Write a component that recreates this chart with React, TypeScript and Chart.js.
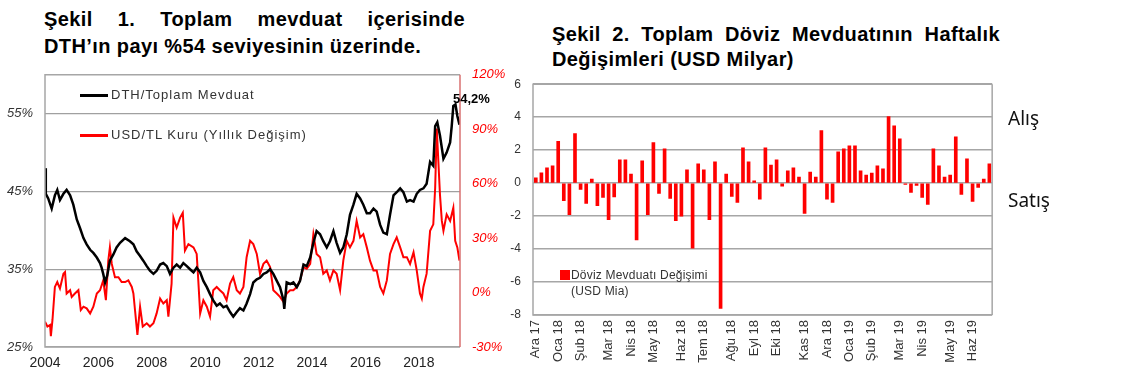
import React, { useEffect, useRef } from "react";
import { Chart, registerables } from "chart.js";

Chart.register(...registerables);

const FONT = "'Liberation Sans', Arial, Helvetica, sans-serif";

// ---------- Şekil 1 data ----------
const dthDates = [2004.0, 2004.03, 2004.12, 2004.25, 2004.37, 2004.46, 2004.56, 2004.69, 2004.81, 2004.94, 2005.06, 2005.19, 2005.31, 2005.44, 2005.56, 2005.69, 2005.81, 2005.94, 2006.06, 2006.12, 2006.18, 2006.25, 2006.33, 2006.43, 2006.56, 2006.68, 2006.81, 2007.0, 2007.18, 2007.31, 2007.43, 2007.56, 2007.68, 2007.81, 2007.93, 2008.06, 2008.18, 2008.31, 2008.43, 2008.56, 2008.68, 2008.81, 2008.93, 2009.06, 2009.18, 2009.31, 2009.43, 2009.56, 2009.68, 2009.81, 2009.93, 2010.06, 2010.18, 2010.3, 2010.43, 2010.55, 2010.68, 2010.8, 2010.93, 2011.05, 2011.18, 2011.3, 2011.43, 2011.55, 2011.68, 2011.8, 2011.93, 2012.05, 2012.18, 2012.3, 2012.43, 2012.55, 2012.68, 2012.8, 2012.93, 2012.96, 2013.05, 2013.18, 2013.3, 2013.43, 2013.55, 2013.68, 2013.8, 2013.93, 2014.05, 2014.17, 2014.3, 2014.42, 2014.55, 2014.67, 2014.8, 2014.92, 2015.05, 2015.17, 2015.3, 2015.42, 2015.55, 2015.67, 2015.8, 2015.92, 2016.05, 2016.17, 2016.3, 2016.42, 2016.55, 2016.67, 2016.8, 2016.92, 2017.05, 2017.17, 2017.3, 2017.42, 2017.55, 2017.67, 2017.8, 2017.92, 2018.04, 2018.17, 2018.29, 2018.42, 2018.54, 2018.61, 2018.69, 2018.79, 2018.92, 2019.04, 2019.17, 2019.23, 2019.29, 2019.37, 2019.44, 2019.52];
const dthShare = [48.0, 44.7, 44.1, 42.8, 44.5, 45.2, 43.9, 44.7, 45.2, 44.5, 43.3, 41.4, 40.3, 39.0, 38.2, 37.5, 37.1, 36.5, 35.8, 35.2, 34.4, 33.3, 34.2, 36.1, 36.9, 37.8, 38.4, 39.0, 38.6, 38.2, 37.3, 36.7, 36.1, 35.4, 34.8, 34.4, 34.8, 35.6, 35.8, 35.4, 34.4, 35.2, 35.6, 35.2, 35.8, 35.4, 35.0, 34.6, 35.2, 34.6, 33.5, 32.7, 31.8, 31.0, 30.3, 30.6, 30.1, 30.3, 29.5, 28.9, 29.5, 30.0, 29.7, 30.6, 31.8, 33.3, 33.7, 33.9, 34.4, 34.6, 35.0, 34.4, 33.5, 32.7, 31.0, 29.9, 33.3, 33.1, 33.3, 32.7, 33.5, 35.6, 35.4, 36.5, 38.4, 39.9, 39.5, 38.6, 37.8, 38.6, 39.9, 38.4, 37.1, 37.8, 39.5, 42.0, 43.3, 44.7, 44.1, 43.3, 42.2, 42.2, 42.8, 42.4, 40.7, 39.7, 39.5, 42.0, 44.5, 44.9, 45.4, 44.9, 43.7, 43.9, 43.7, 44.7, 45.2, 45.4, 46.0, 48.8, 48.3, 53.4, 53.9, 52.2, 49.2, 50.0, 51.3, 53.4, 56.0, 56.2, 54.7, 53.6];

const fxDates = [2004.0, 2004.09, 2004.19, 2004.22, 2004.28, 2004.37, 2004.46, 2004.56, 2004.69, 2004.75, 2004.81, 2004.94, 2005.0, 2005.12, 2005.25, 2005.34, 2005.44, 2005.56, 2005.69, 2005.81, 2005.94, 2006.06, 2006.18, 2006.28, 2006.37, 2006.43, 2006.5, 2006.62, 2006.75, 2006.87, 2007.0, 2007.12, 2007.25, 2007.31, 2007.37, 2007.46, 2007.56, 2007.66, 2007.81, 2007.93, 2008.06, 2008.18, 2008.31, 2008.43, 2008.56, 2008.62, 2008.74, 2008.81, 2008.93, 2009.06, 2009.16, 2009.24, 2009.37, 2009.56, 2009.68, 2009.74, 2009.81, 2009.93, 2010.06, 2010.18, 2010.3, 2010.43, 2010.55, 2010.68, 2010.8, 2010.93, 2011.05, 2011.18, 2011.3, 2011.43, 2011.55, 2011.68, 2011.8, 2011.93, 2012.05, 2012.18, 2012.3, 2012.43, 2012.55, 2012.68, 2012.8, 2012.93, 2013.05, 2013.18, 2013.3, 2013.43, 2013.55, 2013.68, 2013.8, 2013.93, 2014.05, 2014.17, 2014.3, 2014.42, 2014.55, 2014.67, 2014.8, 2014.92, 2015.05, 2015.17, 2015.3, 2015.42, 2015.55, 2015.67, 2015.8, 2015.92, 2016.05, 2016.17, 2016.3, 2016.42, 2016.55, 2016.67, 2016.8, 2016.92, 2017.05, 2017.17, 2017.3, 2017.42, 2017.55, 2017.67, 2017.8, 2017.92, 2018.04, 2018.11, 2018.17, 2018.29, 2018.42, 2018.54, 2018.61, 2018.67, 2018.73, 2018.79, 2018.86, 2018.92, 2019.04, 2019.17, 2019.29, 2019.36, 2019.44, 2019.52];
const fxChange = [-16, -18.7, -17.8, -24, -15.1, 3.1, 5.8, 2.2, 10.4, 11.3, -0.5, 1.3, -2.4, -0.5, 1.3, -9.6, -7.8, -8.7, -11.5, -7.8, -0.5, 1.3, 6.7, -4.2, 17.6, 24.9, 15.8, 8.5, 8.5, 5.8, 5.8, 6.7, 3.1, -0.5, -9.6, -23.3, -7.8, -18.7, -16.9, -18.7, -16.9, -11.5, -3.3, -6.0, -4.2, -13.3, 4.9, 41.3, 35.8, 41.3, 44.0, 23.1, 26.7, 24.9, 21.3, 6.7, -11.5, -4.2, -7.8, -13.3, 1.3, 3.1, 1.3, -0.5, -4.2, 4.9, 8.5, 1.3, -0.5, 3.1, 19.5, 28.5, 26.7, 21.3, 10.4, 15.8, 17.6, 14.0, 1.3, -0.5, -2.4, -5.1, -0.5, 1.3, 1.3, 3.1, 6.7, 14.0, 13.1, 15.8, 32.2, 21.3, 19.5, 10.4, 12.2, 6.7, 12.2, 10.4, 1.3, 17.6, 28.5, 24.9, 28.5, 39.5, 30.4, 32.2, 24.9, 17.6, 12.2, 12.2, 3.1, -0.5, 6.7, 21.3, 26.7, 30.4, 24.9, 19.5, 19.5, 15.8, 22.2, 12.2, -0.5, -3.3, 3.1, 10.4, 34.0, 37.6, 57.6, 90.4, 72.2, 54.0, 39.5, 34.0, 43.1, 39.5, 46.7, 28.5, 24.9, 17.6];

const yearTicks = [2004, 2006, 2008, 2010, 2012, 2014, 2016, 2018];
const shareTicks = [25, 35, 45, 55];
const fxTicks = [-30, 0, 30, 60, 90, 120];

// ---------- Şekil 2 data ----------
const weeklyChange = [0.32, 0.63, 0.93, 1.05, 2.53, -1.07, -1.92, 3.01, -0.38, -1.23, 0.24, -1.37, -0.87, -2.22, -0.83, 1.41, 1.41, 0.55, -3.45, 1.35, -1.92, 2.46, -0.63, 2.08, -0.93, -2.28, -2.0, 0.81, -3.94, 1.17, 0.81, -2.22, 1.29, -7.6, 0.55, -0.81, -1.17, 2.14, 1.29, 0.14, -0.97, 2.14, 1.09, 1.41, -0.18, 0.75, 0.93, 0.36, -1.84, 0.67, 0.36, 3.19, -0.97, -1.17, 1.9, 2.08, 2.26, 2.26, 0.75, 0.48, 0.61, 1.05, 0.87, 4.04, 3.47, 2.69, -0.08, -0.57, -0.14, -0.87, -1.29, 2.08, 1.05, 0.36, 0.48, 2.81, -0.69, 1.47, -1.11, -0.26, 0.24, 1.17];
const monthLabels = ["Ara 17", "Oca 18", "Şub 18", "Mar 18", "Nis 18", "May 18", "Haz 18", "Tem 18", "Ağu 18", "Eyl 18", "Eki 18", "Kas 18", "Ara 18", "Oca 19", "Şub 19", "Mar 19", "Nis 19", "May 19", "Haz 19"];
const monthStartWeek = [0, 4, 8, 13, 17, 21, 26, 30, 35, 39, 43, 48, 52, 56, 60, 65, 69, 74, 78];
const changeTicks = [-8, -6, -4, -2, 0, 2, 4, 6];

const framePlugin = (color: string, rightColor: string) => ({
  id: "frame",
  afterDraw(chart: any) {
    const { ctx, chartArea } = chart;
    const { left, right, top, bottom } = chartArea;
    ctx.save();
    ctx.lineWidth = 1.5;
    ctx.strokeStyle = color;
    ctx.beginPath();
    ctx.moveTo(right, top);
    ctx.lineTo(left, top);
    ctx.lineTo(left, bottom);
    ctx.lineTo(right, bottom);
    ctx.stroke();
    ctx.strokeStyle = rightColor;
    ctx.beginPath();
    ctx.moveTo(right, top);
    ctx.lineTo(right, bottom);
    ctx.stroke();
    ctx.restore();
  },
});

function LeftChart() {
  const ref = useRef<HTMLCanvasElement>(null);
  useEffect(() => {
    const chart = new Chart(ref.current as HTMLCanvasElement, {
      type: "line",
      data: {
        datasets: [
          {
            label: "DTH/Toplam Mevduat",
            data: dthDates.map((d, i) => ({ x: d, y: dthShare[i] })),
            borderColor: "#000000",
            borderWidth: 2.5,
            pointRadius: 0,
            tension: 0,
            yAxisID: "y",
          },
          {
            label: "USD/TL Kuru (Yıllık Değişim)",
            data: fxDates.map((d, i) => ({ x: d, y: fxChange[i] })),
            borderColor: "#ff0000",
            borderWidth: 2,
            pointRadius: 0,
            tension: 0,
            yAxisID: "y1",
          },
        ],
      },
      options: {
        animation: false,
        responsive: true,
        maintainAspectRatio: false,
        layout: { padding: { top: 7, left: 0, right: 0, bottom: 0 } },
        plugins: { legend: { display: false }, tooltip: { enabled: false } },
        scales: {
          x: {
            type: "linear",
            min: 2004,
            max: 2019.54,
            afterBuildTicks: (s: any) => {
              s.ticks = yearTicks.map((v) => ({ value: v }));
            },
            afterFit: (s: any) => {
              s.height = 36;
            },
            grid: { display: false, drawTicks: false },
            border: { display: false },
            ticks: {
              callback: (v: any) => String(v),
              font: { family: FONT, size: 14 },
              color: "#222222",
              padding: 8,
              maxRotation: 0,
            },
          },
          y: {
            position: "left",
            min: 25,
            max: 60,
            afterBuildTicks: (s: any) => {
              s.ticks = shareTicks.map((v) => ({ value: v }));
            },
            afterFit: (s: any) => {
              s.width = 45;
            },
            grid: { color: "#a0a0a0", lineWidth: 1.2, drawTicks: false },
            border: { display: false },
            ticks: {
              callback: (v: any) => v + "%",
              font: { family: FONT, size: 13, style: "italic" },
              color: "#333333",
              padding: 12,
            },
          },
          y1: {
            position: "right",
            min: -30,
            max: 120,
            afterBuildTicks: (s: any) => {
              s.ticks = fxTicks.map((v) => ({ value: v }));
            },
            afterFit: (s: any) => {
              s.width = 60;
            },
            grid: { display: false, drawTicks: false },
            border: { display: false },
            ticks: {
              callback: (v: any) => v + "%",
              font: { family: FONT, size: 13, style: "italic" },
              color: "#ff0000",
              padding: 12,
            },
          },
        },
      },
      plugins: [framePlugin("#a6a6a6", "#d87070")],
    } as any);
    return () => chart.destroy();
  }, []);
  return (
    <div style={{ position: "absolute", left: 0, top: 55, width: 520, height: 328 }}>
      <canvas ref={ref} />
    </div>
  );
}

function RightChart() {
  const ref = useRef<HTMLCanvasElement>(null);
  useEffect(() => {
    const labels = weeklyChange.map((_, i) => {
      const k = monthStartWeek.indexOf(i);
      return k >= 0 ? monthLabels[k] : "";
    });
    const chart = new Chart(ref.current as HTMLCanvasElement, {
      type: "bar",
      data: {
        labels,
        datasets: [
          {
            label: "Döviz Mevduatı Değişimi (USD Mia)",
            data: weeklyChange,
            backgroundColor: "#ff0000",
            barThickness: 3,
          },
        ],
      },
      options: {
        animation: false,
        responsive: true,
        maintainAspectRatio: false,
        layout: { padding: { top: 9, left: 0, right: 5, bottom: 0 } },
        plugins: { legend: { display: false }, tooltip: { enabled: false } },
        scales: {
          x: {
            afterFit: (s: any) => {
              s.height = 68;
            },
            grid: { display: false, drawTicks: false },
            border: { display: false },
            ticks: {
              autoSkip: false,
              minRotation: 90,
              maxRotation: 90,
              font: { family: FONT, size: 13 },
              color: "#333333",
              padding: 5,
            },
          },
          y: {
            min: -8,
            max: 6,
            afterBuildTicks: (s: any) => {
              s.ticks = changeTicks.map((v) => ({ value: v }));
            },
            afterFit: (s: any) => {
              s.width = 43;
            },
            grid: { color: "#a6a6a6", lineWidth: 1.5, drawTicks: false },
            border: { display: false },
            ticks: {
              font: { family: FONT, size: 12 },
              color: "#333333",
              padding: 12,
            },
          },
        },
      },
      plugins: [framePlugin("#a6a6a6", "#a6a6a6")],
    } as any);
    return () => chart.destroy();
  }, []);
  return (
    <div style={{ position: "absolute", left: 490, top: 65, width: 520, height: 318 }}>
      <canvas ref={ref} />
    </div>
  );
}

export default function App() {
  const titleStyle: React.CSSProperties = {
    fontFamily: FONT,
    fontWeight: "bold",
    fontSize: 20,
    letterSpacing: 0.4,
    color: "#000",
    whiteSpace: "nowrap",
  };
  const legendText: React.CSSProperties = {
    position: "absolute",
    fontFamily: FONT,
    fontSize: 13,
    letterSpacing: 1,
    color: "#333",
    lineHeight: "16px",
    whiteSpace: "nowrap",
  };
  return (
    <div style={{ position: "absolute", left: 0, top: 0, width: 1140, height: 383, background: "#fff", overflow: "hidden" }}>
      <div style={{ position: "absolute", left: 44, top: 6, width: 421, lineHeight: "27px" }}>
        <div style={{ ...titleStyle, textAlign: "justify", textAlignLast: "justify" as any }}>Şekil 1. Toplam mevduat içerisinde</div>
        <div style={titleStyle}>DTH’ın payı %54 seviyesinin üzerinde.</div>
      </div>
      <div style={{ position: "absolute", left: 552, top: 22, width: 448, lineHeight: "25px" }}>
        <div style={{ ...titleStyle, textAlign: "justify", textAlignLast: "justify" as any }}>Şekil 2. Toplam Döviz Mevduatının Haftalık</div>
        <div style={titleStyle}>Değişimleri (USD Milyar)</div>
      </div>

      <LeftChart />
      <RightChart />

      {/* Şekil 1 legend */}
      <div style={{ position: "absolute", left: 80, top: 94, width: 28, height: 2.5, background: "#000" }} />
      <div style={{ ...legendText, left: 111, top: 87 }}>DTH/Toplam Mevduat</div>
      <div style={{ position: "absolute", left: 80, top: 134, width: 28, height: 2.5, background: "#ff0000" }} />
      <div style={{ ...legendText, left: 111, top: 127 }}>USD/TL Kuru (Yıllık Değişim)</div>
      <div style={{ position: "absolute", left: 453, top: 91, fontFamily: FONT, fontWeight: "bold", fontSize: 13, color: "#000", whiteSpace: "nowrap" }}>54,2%</div>

      {/* Şekil 2 legend */}
      <div style={{ position: "absolute", left: 560, top: 270, width: 10, height: 10, background: "#ff0000" }} />
      <div style={{ ...legendText, fontSize: 12, letterSpacing: 0.2, left: 571, top: 267 }}>Döviz Mevduatı Değişimi</div>
      <div style={{ ...legendText, fontSize: 12, letterSpacing: 0.2, left: 571, top: 283 }}>(USD Mia)</div>

      <div style={{ position: "absolute", left: 1008, top: 105, fontFamily: "'Noto Sans', 'Open Sans', sans-serif", fontSize: 19, color: "#111", whiteSpace: "nowrap" }}>Alış</div>
      <div style={{ position: "absolute", left: 1008, top: 187, fontFamily: "'Noto Sans', 'Open Sans', sans-serif", fontSize: 19, color: "#111", whiteSpace: "nowrap" }}>Satış</div>
    </div>
  );
}
